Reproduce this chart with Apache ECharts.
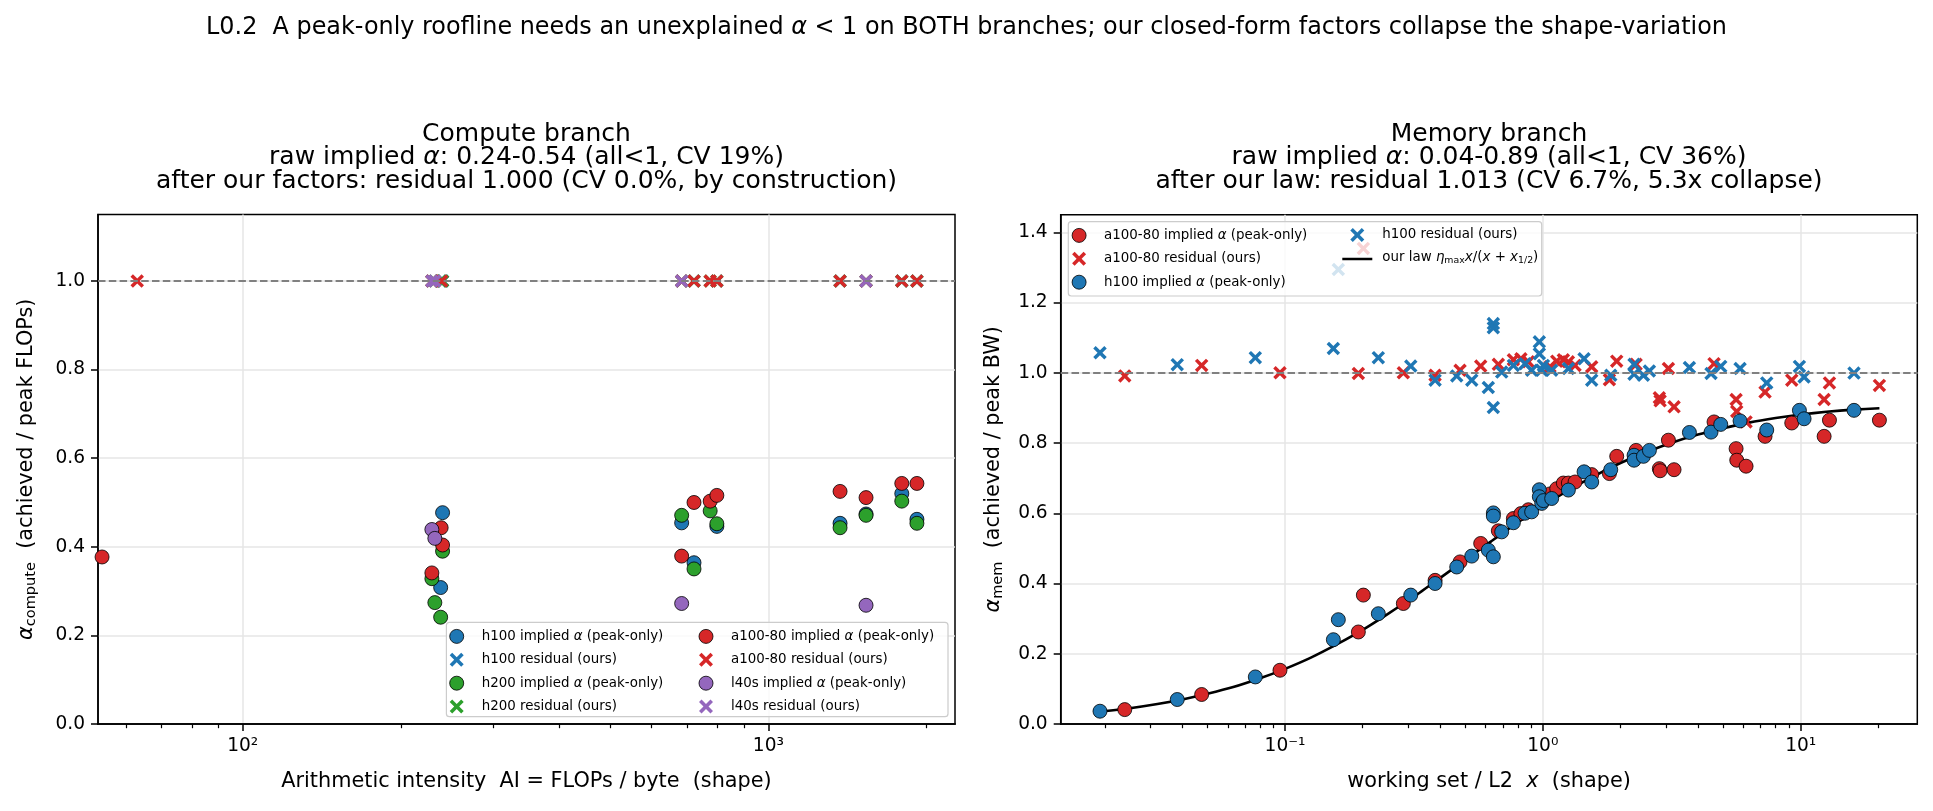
<!DOCTYPE html>
<html><head><meta charset="utf-8">
<script src="https://cdn.jsdelivr.net/npm/echarts@6/dist/echarts.min.js"></script>
<style>html,body{margin:0;padding:0;background:#fff}#c{width:1933px;height:811px}</style>
</head><body><div id="c"></div>
<script>
// ---------------- data: compute branch (x = arithmetic intensity) ----------------
const cmpH100AI   = [240, 238, 684, 722, 798, 1369, 1534, 1794, 1917];
const cmpH100Imp  = [0.477, 0.308, 0.454, 0.364, 0.446, 0.453, 0.474, 0.520, 0.462];
const cmpH100Res  = [1.0, 1.0, 1.0, 1.0, 1.0, 1.0, 1.0, 1.0, 1.0];
const cmpH200AI   = [240, 229, 232, 238, 684, 722, 775, 798, 1369, 1534, 1794, 1917];
const cmpH200Imp  = [0.390, 0.328, 0.274, 0.241, 0.471, 0.350, 0.481, 0.452, 0.443, 0.471, 0.503, 0.453];
const cmpH200Res  = [1.0, 1.0, 1.0, 1.0, 1.0, 1.0, 1.0, 1.0, 1.0, 1.0, 1.0, 1.0];
const cmpA100AI   = [54, 238.5, 240, 229, 684, 722, 775, 798, 1369, 1534, 1794, 1917];
const cmpA100Imp  = [0.377, 0.443, 0.404, 0.341, 0.379, 0.500, 0.503, 0.516, 0.525, 0.511, 0.543, 0.543];
const cmpA100ResAI = [63, 239, 229, 684, 722, 775, 798, 1369, 1534, 1794, 1917];
const cmpA100Res  = [1.0, 1.0, 1.0, 1.0, 1.0, 1.0, 1.0, 1.0, 1.0, 1.0, 1.0];
const cmpL40sAI   = [229, 232, 684, 1534];
const cmpL40sImp  = [0.439, 0.419, 0.272, 0.268];
const cmpL40sRes  = [1.0, 1.0, 1.0, 1.0];

// ---------------- data: memory branch (x = working set / L2) ----------------
const memA100X   = [0.0239,0.0475,0.0956,0.1925,0.2013,0.2877,0.382,0.4774,0.574,0.672,0.7687,0.822,0.8788,1.066,1.132,1.201,1.256,1.333,1.547,1.812,1.934,2.30,2.83,2.85,3.069,3.228,4.613,5.617,5.65,6.14,7.275,9.233,12.33,12.93,20.2];
const memA100Imp = [0.041,0.084,0.153,0.262,0.367,0.343,0.409,0.4615,0.514,0.550,0.585,0.599,0.610,0.655,0.670,0.686,0.686,0.689,0.710,0.713,0.762,0.779,0.727,0.721,0.808,0.724,0.860,0.784,0.751,0.734,0.819,0.857,0.819,0.865,0.865];
const memA100Res = [0.991,1.021,1.000,0.998,1.354,1.000,0.993,1.007,1.019,1.024,1.037,1.040,1.031,1.017,1.033,1.037,1.031,1.021,1.017,0.980,1.033,1.024,0.929,0.920,1.012,0.903,1.026,0.924,0.890,0.860,0.945,0.979,0.924,0.971,0.964];
const memH100X   = [0.01916,0.0382,0.0767,0.154,0.161,0.2301,0.3074,0.382,0.4634,0.53,0.6145,0.6427,0.6427,0.6427,0.6925,0.7687,0.853,0.905,0.969,0.969,0.99,1.005,1.082,1.256,1.445,1.547,1.834,2.258,2.258,2.455,2.59,3.702,4.49,4.897,5.82,7.385,9.887,10.31,16.1];
const memH100Imp = [0.0364,0.0697,0.134,0.240,0.297,0.314,0.367,0.400,0.447,0.478,0.495,0.601,0.592,0.476,0.547,0.573,0.600,0.604,0.667,0.647,0.628,0.636,0.642,0.666,0.718,0.689,0.724,0.765,0.751,0.762,0.779,0.830,0.831,0.853,0.863,0.837,0.893,0.869,0.893];
const memH100Res = [1.057,1.023,1.043,1.069,1.294,1.043,1.019,0.979,0.991,0.979,0.958,1.140,1.128,0.901,1.002,1.021,1.026,1.007,1.088,1.054,1.007,1.021,1.007,1.012,1.040,0.979,0.993,1.024,0.996,0.993,1.005,1.015,0.998,1.018,1.012,0.971,1.018,0.988,0.999];
// fitted law curve
const lawX = [0.0192,0.025,0.032,0.04,0.05,0.063,0.08,0.1,0.126,0.16,0.2,0.25,0.32,0.4,0.5,0.63,0.8,1.0,1.26,1.6,2.0,2.5,3.2,4.0,5.0,6.3,8.0,10,12.6,16,20.2];
const lawY = [0.035,0.045,0.057,0.070,0.086,0.105,0.130,0.157,0.189,0.228,0.268,0.313,0.365,0.416,0.467,0.520,0.574,0.621,0.666,0.708,0.743,0.773,0.802,0.824,0.842,0.858,0.871,0.881,0.889,0.895,0.899];

// ---------------- ticks ----------------
const cmpXMajor = [100, 1000];
const cmpXMajorLabels = ['10²', '10³'];
const cmpXMinor = [60,70,80,90,200,300,400,500,600,700,800,900,2000];
const memXMajor = [0.1, 1, 10];
const memXMajorLabels = ['10⁻¹', '10⁰', '10¹'];
const memXMinor = [0.02,0.03,0.04,0.05,0.06,0.07,0.08,0.09,0.2,0.3,0.4,0.5,0.6,0.7,0.8,0.9,2,3,4,5,6,7,8,9,20];
const cmpYTicks = [0, 0.2, 0.4, 0.6, 0.8, 1.0];
const memYTicks = [0, 0.2, 0.4, 0.6, 0.8, 1.0, 1.2, 1.4];

// ---------------- names ----------------
const N = {
  h100i: 'h100 implied α (peak-only)', h100r: 'h100 residual (ours)',
  h200i: 'h200 implied α (peak-only)', h200r: 'h200 residual (ours)',
  a100i: 'a100-80 implied α (peak-only)', a100r: 'a100-80 residual (ours)',
  l40si: 'l40s implied α (peak-only)', l40sr: 'l40s residual (ours)',
  law: 'our law'
};

const FONT = 'DejaVu Sans';
const TICK = 18.6, LABEL = 20.8, TITLE = 25, SUPT = 23.9, LEG = 13.4;
const COL = {blue: '#1f77b4', red: '#d62728', green: '#2ca02c', purple: '#9467bd'};
const XPATH = 'path://M1.8,0 L5,3.2 L8.2,0 L10,1.8 L6.8,5 L10,8.2 L8.2,10 L5,6.8 L1.8,10 L0,8.2 L3.2,5 L0,1.8 Z';
const LINE_ICON = 'path://M0,0 L0.01,0 L0.01,0.01 Z M0,6.7 L30,6.7 L30,9.3 L0,9.3 Z M29.99,14 L30,14 L30,13.99 Z';
const lg = Math.log10;
const pts = (xs, ys) => xs.map((x, i) => [lg(x), ys[i]]);

const CMP_XMIN = lg(53.05), CMP_XMAX = lg(2265);
const MEM_XMIN = -1.870, MEM_XMAX = 1.4523;

function richSet(fs, lh) {
  const base = {fontSize: fs, fontFamily: FONT, color: '#000', fontWeight: 'normal', align: 'center'};
  if (lh) base.lineHeight = lh;
  return {
    n: base,
    i: Object.assign({}, base, {fontStyle: 'italic'}),
    sub: {fontSize: fs * 0.7, fontFamily: FONT, color: '#000', fontWeight: 'normal', padding: [fs * 0.45, 0, 0, 0], align: 'center'}
  };
}

const AXLINE = {show: true, onZero: false, lineStyle: {color: '#000', width: 1.5}};

function xAxes(gi, lo, hi, majors, labels, minors, name, gap) {
  const lv = majors.map(lg);
  return [{
    type: 'value', gridIndex: gi, min: lo, max: hi, position: 'bottom',
    axisLine: AXLINE,
    axisTick: {show: true, inside: false, length: 7, lineStyle: {color: '#000', width: 1.5}, customValues: lv},
    axisLabel: {customValues: lv, margin: 13, fontSize: TICK, fontFamily: FONT, color: '#000',
      formatter: v => { const k = lv.findIndex(t => Math.abs(t - v) < 1e-6); return k >= 0 ? labels[k] : ''; }},
    splitLine: {show: true, lineStyle: {color: '#e6e6e6', width: 1.5}},
    name: name, nameLocation: 'middle', nameGap: gap, nameMoveOverlap: false,
    nameTextStyle: {fontSize: LABEL, fontFamily: FONT, color: '#000', lineHeight: 24, rich: richSet(LABEL)}
  }, {
    type: 'value', gridIndex: gi, min: lo, max: hi, position: 'bottom',
    axisLine: AXLINE,
    axisTick: {show: true, inside: false, length: 4.2, lineStyle: {color: '#000', width: 1.2}, customValues: minors.map(lg)},
    axisLabel: {show: false}, splitLine: {show: false}
  }];
}

function yAxis(gi, max, ticks, name, gap) {
  return {
    type: 'value', gridIndex: gi, min: 0, max: max, position: 'left',
    axisLine: AXLINE,
    axisTick: {show: true, inside: false, length: 7, lineStyle: {color: '#000', width: 1.5}, customValues: ticks},
    axisLabel: {customValues: ticks, margin: 13, fontSize: TICK, fontFamily: FONT, color: '#000', formatter: v => v.toFixed(1)},
    splitLine: {show: true, lineStyle: {color: '#e6e6e6', width: 1.5}},
    name: name, nameLocation: 'middle', nameGap: gap, nameMoveOverlap: false,
    nameTextStyle: {fontSize: LABEL, fontFamily: FONT, color: '#000', lineHeight: 24, rich: richSet(LABEL)}
  };
}

function circ(name, color, data, xi, yi) {
  return {type: 'scatter', name, data, xAxisIndex: xi, yAxisIndex: yi, symbol: 'circle', symbolSize: 14,
    itemStyle: {color, borderColor: '#000', borderWidth: 0.8, opacity: 1}, silent: true, emphasis: {disabled: true}, z: 2};
}
function cross(name, color, data, xi, yi) {
  return {type: 'scatter', name, data, xAxisIndex: xi, yAxisIndex: yi, symbol: XPATH, symbolSize: 13.5,
    itemStyle: {color, opacity: 1}, silent: true, emphasis: {disabled: true}, z: 2};
}
const refLine = {silent: true, symbol: ['none', 'none'], label: {show: false}, animation: false,
  lineStyle: {color: '#808080', type: [7.5, 3.3], width: 2}, data: [{yAxis: 1}]};

function legFmt(name) {
  if (name === N.law) return '{n|our law }{i|η}{s|max}{i|x}{n|/(}{i|x}{n| + }{i|x}{s|1/2}{n|)}';
  return name.split('α').map(s => '{n|' + s + '}').join('{i|α}');
}
const legRich = {
  n: {fontSize: LEG, fontFamily: FONT, color: '#000'},
  i: {fontSize: LEG, fontFamily: FONT, color: '#000', fontStyle: 'italic'},
  s: {fontSize: LEG * 0.7, fontFamily: FONT, color: '#000', padding: [LEG * 0.45, 0, 0, 0]}
};
function legend(data, left, top) {
  return {show: true, data, orient: 'vertical', left, top, padding: 0, itemGap: 9, itemWidth: 30, itemHeight: 14,
    selectedMode: false, formatter: legFmt, itemStyle: {borderWidth: 0.8},
    textStyle: {fontSize: LEG, fontFamily: FONT, color: '#000', lineHeight: 14, padding: [0, 0, 0, 5], rich: legRich}};
}

const TLH = 23.4;
const option = {
  animation: false,
  backgroundColor: '#fff',
  textStyle: {fontFamily: FONT},
  title: [
    {text: '{n|L0.2  A peak-only roofline needs an unexplained }{i|α}{n| < 1 on BOTH branches; our closed-form factors collapse the shape-variation}',
      left: 966.5, top: 16, padding: 0, textAlign: 'center',
      textStyle: {fontSize: SUPT, fontWeight: 'normal', color: '#000', rich: richSet(SUPT, 24)}},
    {text: '{n|Compute branch}\n{n|raw implied }{i|α}{n|: 0.24-0.54 (all<1, CV 19%)}\n{n|after our factors: residual 1.000 (CV 0.0%, by construction)}',
      left: 526.5, top: 122.7, padding: 0, textAlign: 'center',
      textStyle: {fontSize: TITLE, fontWeight: 'normal', color: '#000', lineHeight: TLH, rich: richSet(TITLE, TLH)}},
    {text: '{n|Memory branch}\n{n|raw implied }{i|α}{n|: 0.04-0.89 (all<1, CV 36%)}\n{n|after our law: residual 1.013 (CV 6.7%, 5.3x collapse)}',
      left: 1489, top: 122.7, padding: 0, textAlign: 'center',
      textStyle: {fontSize: TITLE, fontWeight: 'normal', color: '#000', lineHeight: TLH, rich: richSet(TITLE, TLH)}}
  ],
  grid: [
    {left: 98, top: 214.5, width: 857, height: 509.5, show: true, borderColor: '#000', borderWidth: 1.5,
      backgroundColor: 'transparent', containLabel: false, outerBoundsMode: 'none'},
    {left: 1060.7, top: 214.7, width: 856.6, height: 509.3, show: true, borderColor: '#000', borderWidth: 1.5,
      backgroundColor: 'transparent', containLabel: false, outerBoundsMode: 'none'}
  ],
  xAxis: [
    ...xAxes(0, CMP_XMIN, CMP_XMAX, cmpXMajor, cmpXMajorLabels, cmpXMinor,
      'Arithmetic intensity  AI = FLOPs / byte  (shape)', 46),
    ...xAxes(1, MEM_XMIN, MEM_XMAX, memXMajor, memXMajorLabels, memXMinor,
      '{n|working set / L2  }{i|x}{n|  (shape)}', 46)
  ],
  yAxis: [
    yAxis(0, 1.15, cmpYTicks, '{i|α}{sub|compute}{n|  (achieved / peak FLOPs)}', 59),
    yAxis(1, 1.45, memYTicks, '{i|α}{sub|mem}{n|  (achieved / peak BW)}', 55)
  ],
  legend: [
    legend([N.h100i, N.h100r, N.h200i, N.h200r], 449.3, 629),
    legend([N.a100i, N.a100r, N.l40si, N.l40sr], 698.6, 629),
    legend([N.a100i, N.a100r, N.h100i], 1071.7, 228),
    legend([N.h100r, {name: N.law, icon: LINE_ICON}], 1342.3, 228)
  ],
  graphic: {elements: [
    {type: 'rect', shape: {x: 446.4, y: 622.3, width: 501.6, height: 94.4, r: 3}, z: 3, silent: true,
      style: {fill: 'rgba(255,255,255,0.8)', stroke: '#cccccc', lineWidth: 1.2}},
    {type: 'rect', shape: {x: 1068.3, y: 221.7, width: 473.4, height: 74.3, r: 3}, z: 3, silent: true,
      style: {fill: 'rgba(255,255,255,0.8)', stroke: '#cccccc', lineWidth: 1.2}}
  ]},
  series: [
    Object.assign(circ(N.h100i, COL.blue, pts(cmpH100AI, cmpH100Imp), 0, 0), {markLine: refLine}),
    cross(N.h100r, COL.blue, pts(cmpH100AI, cmpH100Res), 0, 0),
    circ(N.h200i, COL.green, pts(cmpH200AI, cmpH200Imp), 0, 0),
    cross(N.h200r, COL.green, pts(cmpH200AI, cmpH200Res), 0, 0),
    circ(N.a100i, COL.red, pts(cmpA100AI, cmpA100Imp), 0, 0),
    cross(N.a100r, COL.red, pts(cmpA100ResAI, cmpA100Res), 0, 0),
    circ(N.l40si, COL.purple, pts(cmpL40sAI, cmpL40sImp), 0, 0),
    cross(N.l40sr, COL.purple, pts(cmpL40sAI, cmpL40sRes), 0, 0),

    Object.assign(circ(N.a100i, COL.red, pts(memA100X, memA100Imp), 2, 1), {markLine: refLine}),
    cross(N.a100r, COL.red, pts(memA100X, memA100Res), 2, 1),
    circ(N.h100i, COL.blue, pts(memH100X, memH100Imp), 2, 1),
    cross(N.h100r, COL.blue, pts(memH100X, memH100Res), 2, 1),
    {type: 'line', name: N.law, data: pts(lawX, lawY), xAxisIndex: 2, yAxisIndex: 1, symbol: 'none',
      smooth: 0.2, lineStyle: {color: '#000', width: 2.6}, itemStyle: {color: '#000'},
      silent: true, emphasis: {disabled: true}, z: 2}
  ]
};
const chart = echarts.init(document.getElementById('c'), null, {renderer: 'canvas'});
chart.setOption(option);
</script>
</body></html>
